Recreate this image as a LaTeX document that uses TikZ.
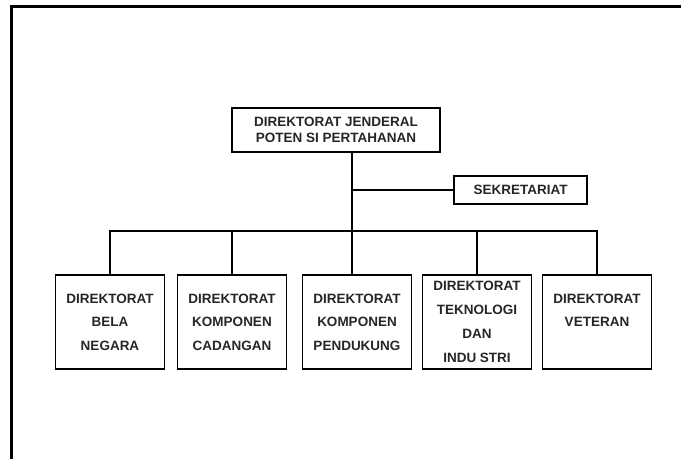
\documentclass[tikz,border=0pt]{standalone}
\usepackage{fontspec}
\setmainfont{Liberation Sans}

\tikzset{
  unitbox/.style={draw, line width=1.2pt, inner sep=0pt, minimum width=109pt,
    minimum height=94pt, align=center, text=black!85,
    font=\bfseries\fontsize{13.5}{23.5}\selectfont},
  headbox/.style={unitbox, minimum width=208pt, minimum height=44pt,
    font=\bfseries\fontsize{13.5}{16}\selectfont},
  sidebox/.style={unitbox, minimum width=133pt, minimum height=28pt}
}

\begin{document}
\begin{tikzpicture}[x=1pt,y=-1pt]
    \useasboundingbox (0,0) rectangle (681,459);

    % Outer frame (top and left edges)
    \draw[line width=3pt] (11.5,459) -- (11.5,6.5) -- (681,6.5);

    % Head and secretariat
    \node[headbox] (dj) at (336,130) {DIREKTORAT JENDERAL\\POTEN SI PERTAHANAN};
    \node[sidebox] (sek) at (520.5,190) {SEKRETARIAT};

    % Directorates
    \node[unitbox] (bn) at (110,322) {DIREKTORAT\\BELA\\NEGARA};
    \node[unitbox] (kc) at (232,322) {DIREKTORAT\\KOMPONEN\\CADANGAN};
    \node[unitbox] (kp) at (357,322) {DIREKTORAT\\KOMPONEN\\PENDUKUNG};
    \node[unitbox, font=\bfseries\fontsize{13.5}{24}\selectfont] (ti) at (477,322)
        {DIREKTORAT\\TEKNOLOGI\\DAN\\INDU STRI};
    \node[unitbox] (vt) at (597,322) {DIREKTORAT\\VETERAN\\\mbox{}};

    % Connectors
    \coordinate (hub) at (352,231);
    \draw[line width=1.2pt] (dj.south -| hub) -- (kp.north -| hub);
    \draw[line width=1.2pt] (hub |- sek.west) -- (sek.west);
    \draw[line width=1.2pt] (bn.north) |- (hub);
    \draw[line width=1.2pt] (vt.north) |- (hub);
    \draw[line width=1.2pt] (kc.north) -- (kc.north |- hub);
    \draw[line width=1.2pt] (ti.north) -- (ti.north |- hub);
\end{tikzpicture}
\end{document}
